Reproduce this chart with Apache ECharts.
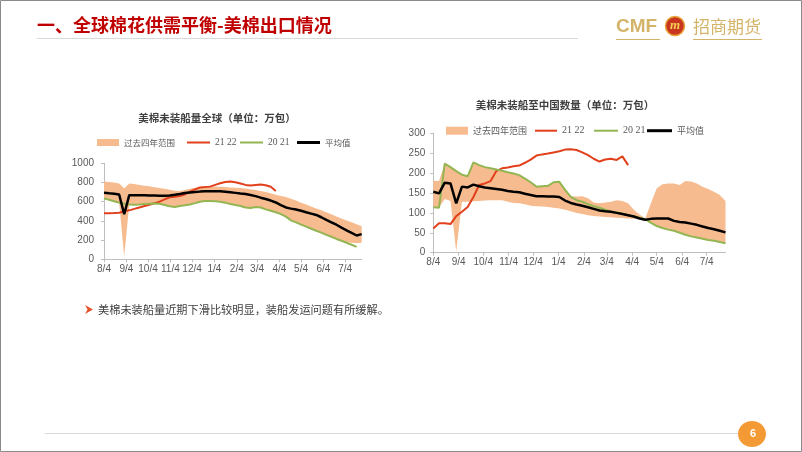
<!DOCTYPE html>
<html><head><meta charset="utf-8">
<script src="https://cdn.jsdelivr.net/npm/echarts@6/dist/echarts.min.js"></script>
<style>html,body{margin:0;padding:0;background:#fff}#c{width:802px;height:452px}</style>
</head><body><div id="c"></div>
<script>
// ---- categories (weekly dates) ----
const weekDates = ['2021-08-04','2021-08-11','2021-08-18','2021-08-25','2021-09-01','2021-09-08','2021-09-15','2021-09-22','2021-09-29',
'2021-10-06','2021-10-13','2021-10-20','2021-10-27','2021-11-03','2021-11-10','2021-11-17','2021-11-24','2021-12-01','2021-12-08',
'2021-12-15','2021-12-22','2021-12-29','2022-01-05','2022-01-12','2022-01-19','2022-01-26','2022-02-02','2022-02-09','2022-02-16',
'2022-02-23','2022-03-02','2022-03-09','2022-03-16','2022-03-23','2022-03-30','2022-04-06','2022-04-13','2022-04-20','2022-04-27',
'2022-05-04','2022-05-11','2022-05-18','2022-05-25','2022-06-01','2022-06-08','2022-06-15','2022-06-22','2022-06-29','2022-07-06',
'2022-07-13','2022-07-20','2022-07-27'];
// ---- tick labels ----
const monthTicks = ['2021-08-04','2021-09-04','2021-10-04','2021-11-04','2021-12-04','2022-01-04','2022-02-04','2022-03-04','2022-04-04','2022-05-04','2022-06-04','2022-07-04'];
const monthLabels = ['8/4','9/4','10/4','11/4','12/4','1/4','2/4','3/4','4/4','5/4','6/4','7/4'];
const leftYTicks = [0, 200, 400, 600, 800, 1000];
const rightYTicks = [0, 50, 100, 150, 200, 250, 300];

// ---- left chart: 美棉未装船量全球 ----
const leftRangeLow = [635,620,605,590,28,572,568,570,575,578, 580,578,565,552,545,555,562,570,585,600, 608,608,605,600,590,575,565,555,540,535, 545,540,520,505,490,470,445,405,385,362, 340,318,298,278,255,235,212,197,180,172, 168,172];
const leftRangeHigh = [810,805,800,790,740,790,785,775,765,760, 750,742,735,725,715,712,722,735,745,750, 755,757,758,756,752,748,745,742,738,730, 722,712,700,688,672,660,650,632,612,590, 570,550,530,510,490,468,445,425,405,385, 365,345];
const left2122 = [479,480,482,485,500,510,525,540,555,568, 585,600,625,645,652,660,675,705,728,748, 752,757,775,792,805,810,803,790,775,768, 775,778,772,755,712];
const left2021 = [635,620,605,590,580,572,568,570,575,578, 580,578,565,552,545,555,562,570,585,600, 608,608,605,600,590,575,565,555,540,535, 545,540,520,505,490,470,445,405,385,362, 340,318,298,278,255,235,212,193,172,152, 130];
const leftAvg = [694,688,683,675,469,668,668,667,666,665, 664,663,663,665,672,680,690,697,700,705, 708,710,710,708,704,698,692,685,680,670, 658,642,628,612,592,565,540,528,518,505, 490,476,462,438,410,385,360,330,302,275, 248,262];

// ---- right chart: 美棉未装船至中国数量 ----
const rightRangeLow = [114,114,135,130,3,128,128,129,130,131, 132,132,132,128,125,124,122,118,117,116, 115,113,111,108,104,100,97,94,92,91, 90,89,88,87,86,85,84,83,75,67, 62,58,55,50,45,41,38,35,32,30, 27,24];
const rightRangeHigh = [181,180,224,215,205,196,192,227,220,215, 212,209,206,202,199,195,186,177,166,167, 168,177,178,158,142,141,142,137,126,124, 126,128,132,130,124,108,96,86,125,162, 172,174,174,170,180,179,174,166,160,153, 145,130];
const right2122 = [61,74,74,72,92,103,115,140,170,174, 180,205,212,214,217,219,226,234,244,247, 249,252,255,259,260,258,252,245,236,229, 234,236,233,242,220];
const right2021 = [114,113,224,215,205,196,192,227,220,215, 212,209,206,202,199,195,186,177,166,167, 168,177,178,158,140,132,128,122,117,113, 108,103,101,98,95,91,88,84,75,67, 62,58,55,50,45,41,38,35,32,30, 27,24];
const rightAvg = [153,149,176,174,124,166,164,171,167,164, 162,160,158,155,153,152,148,145,142,142, 141,141,140,131,125,121,118,114,110,106, 104,103,100,97,94,91,86,83,85,86, 86,86,80,77,76,73,70,66,62,59, 55,51];

const NAME_RANGE = '过去四年范围', NAME_A = '21 22', NAME_B = '20 21', NAME_AVG = '平均值';
const C_RANGE = '#F6BC90', C_RED = '#E2401C', C_GREEN = '#93B552', C_AVG = '#000000';
const CJK = '"Noto Sans CJK SC", sans-serif';
const SERIF = '"Liberation Serif", serif';

// day offsets from the first date (the x axis is a value axis measured in days)
function dayNum(s){ const p = s.split('-').map(Number); return Math.round(Date.UTC(p[0], p[1]-1, p[2]) / 86400000); }
const day0 = dayNum(weekDates[0]);
const weekX = weekDates.map(s => dayNum(s) - day0);
const tickX = monthTicks.map(s => dayNum(s) - day0);
function pairs(vals){ return vals.map((v,i)=>[weekX[i], v]); }
function labelFor(v){
  const i = tickX.indexOf(Math.round(v));
  return i >= 0 ? monthLabels[i] : '';
}

function xAxisCfg(g){
  return { type:'value', gridIndex:g, min:weekX[0], max:weekX[weekX.length-1],
    axisLine:{show:true, onZero:false, lineStyle:{color:'#BFBFBF', width:1}},
    axisTick:{show:true, length:3, customValues:tickX, lineStyle:{color:'#BFBFBF'}},
    axisLabel:{customValues:tickX, formatter:labelFor, color:'#595959', fontSize:10, fontFamily:'"Liberation Sans", Arial', margin:5, hideOverlap:false, showMinLabel:true, showMaxLabel:true},
    splitLine:{show:false} };
}
function yAxisCfg(g, ticks, margin){
  return { type:'value', gridIndex:g, min:ticks[0], max:ticks[ticks.length-1], interval:ticks[1]-ticks[0],
    axisLine:{show:true, lineStyle:{color:'#BFBFBF', width:1}},
    axisTick:{show:true, length:3, lineStyle:{color:'#BFBFBF'}},
    axisLabel:{color:'#595959', fontSize:10, fontFamily:'"Liberation Sans", Arial', margin:margin, formatter:v => String(v)},
    splitLine:{show:false} };
}
function bandSeries(g, low, high){
  return { type:'custom', name:NAME_RANGE, xAxisIndex:g, yAxisIndex:g, silent:true, z:1,
    itemStyle:{color:C_RANGE},
    data: weekX.map((x,i)=>[x, low[i], high[i]]),
    encode:{x:0, y:[1,2]},
    renderItem:function(params, api){
      if (params.dataIndex !== 0) return null;
      const pts = [];
      for (let i=0;i<weekX.length;i++) pts.push(api.coord([weekX[i], high[i]]));
      for (let i=weekX.length-1;i>=0;i--) pts.push(api.coord([weekX[i], low[i]]));
      return {type:'polygon', shape:{points:pts}, style:{fill:C_RANGE}};
    } };
}
function chartSeries(g, low, high, a, b, avg){
  return [
    bandSeries(g, low, high),
    { type:'line', name:NAME_A, xAxisIndex:g, yAxisIndex:g, data:pairs(a), symbol:'none', z:3, lineStyle:{color:C_RED, width:2}, itemStyle:{color:C_RED} },
    { type:'line', name:NAME_B, xAxisIndex:g, yAxisIndex:g, data:pairs(b), symbol:'none', z:3, lineStyle:{color:C_GREEN, width:2}, itemStyle:{color:C_GREEN} },
    { type:'line', name:NAME_AVG, xAxisIndex:g, yAxisIndex:g, data:pairs(avg), symbol:'none', z:3, lineStyle:{color:C_AVG, width:2.5}, itemStyle:{color:C_AVG} }
  ];
}
function legendItem(name, left, cy, iw, ih, color, font, fs){
  return { left:left, top:cy-6, itemWidth:iw, itemHeight:ih, itemGap:0, padding:0, selectedMode:false,
    data:[{name:name, icon:'rect', itemStyle:{color:color, borderWidth:0}}],
    textStyle:{color:'#595959', fontSize:fs, fontFamily:font, lineHeight:12} };
}

const option = {
  animation:false,
  backgroundColor:'#ffffff',
  grid:[
    {left:104, top:163.3, width:257.7, height:96, containLabel:false},
    {left:433.3, top:133.3, width:292.2, height:119.4, containLabel:false}
  ],
  xAxis:[xAxisCfg(0), xAxisCfg(1)],
  yAxis:[yAxisCfg(0, leftYTicks, 10), yAxisCfg(1, rightYTicks, 8)],
  legend:[
    legendItem(NAME_RANGE, 97, 142.5, 22, 7, C_RANGE, CJK, 8.5),
    legendItem(NAME_A, 187, 142.5, 23, 2, C_RED, SERIF, 9.5),
    legendItem(NAME_B, 240, 142.5, 23, 2, C_GREEN, SERIF, 9.5),
    legendItem(NAME_AVG, 297, 142.5, 23, 3, C_AVG, CJK, 8.5),
    legendItem(NAME_RANGE, 446, 130.7, 22, 8, C_RANGE, CJK, 9),
    legendItem(NAME_A, 535, 130.7, 22, 2, C_RED, SERIF, 10),
    legendItem(NAME_B, 594, 130.7, 24, 2, C_GREEN, SERIF, 10),
    legendItem(NAME_AVG, 647, 130.7, 25, 3, C_AVG, CJK, 9)
  ],
  series: chartSeries(0, leftRangeLow, leftRangeHigh, left2122, left2021, leftAvg)
    .concat(chartSeries(1, rightRangeLow, rightRangeHigh, right2122, right2021, rightAvg)),
  graphic:[
    {type:'rect', shape:{x:0.5, y:0.5, width:801, height:451}, style:{fill:'none', stroke:'#8a8a8a', lineWidth:1}, silent:true},
    {type:'text', x:37, y:25.5, style:{text:'一、全球棉花供需平衡-美棉出口情况', fill:'#C00000', font:'bold 18px "Noto Sans CJK SC"', verticalAlign:'middle'}},
    {type:'line', shape:{x1:37, y1:38.5, x2:578, y2:38.5}, style:{stroke:'#D9D9D9', lineWidth:1}},
    {type:'text', x:616, y:26.5, style:{text:'CMF', fill:'#D4B469', font:'bold 19px "Liberation Sans"', verticalAlign:'middle'}},
    {type:'line', shape:{x1:616, y1:39.5, x2:660, y2:39.5}, style:{stroke:'#D4B469', lineWidth:1}},
    {type:'circle', shape:{cx:675, cy:26, r:9.5}, style:{fill:'#C9361F', stroke:'#E7A53A', lineWidth:1.5}},
    {type:'text', x:675, y:26, style:{text:'m', fill:'#F6CF55', font:'bold italic 13px "Liberation Serif"', align:'center', verticalAlign:'middle'}},
    {type:'text', x:693, y:26.5, style:{text:'招商期货', fill:'#D4B469', font:'17px "Noto Sans CJK SC"', verticalAlign:'middle'}},
    {type:'line', shape:{x1:693, y1:39.5, x2:762, y2:39.5}, style:{stroke:'#D4B469', lineWidth:1}},
    {type:'text', x:217, y:118, style:{text:'美棉未装船量全球（单位：万包）', fill:'#404040', font:'bold 10.5px "Noto Sans CJK SC"', align:'center', verticalAlign:'middle'}},
    {type:'text', x:565, y:105, style:{text:'美棉未装船至中国数量（单位：万包）', fill:'#404040', font:'bold 10.5px "Noto Sans CJK SC"', align:'center', verticalAlign:'middle'}},
    {type:'polygon', shape:{points:[[85,305],[93,309.5],[85,314],[87.5,309.5]]}, style:{fill:'#E4542A'}},
    {type:'text', x:98, y:309.5, style:{text:'美棉未装船量近期下滑比较明显，装船发运问题有所缓解。', fill:'#404040', font:'11.2px "Noto Sans CJK SC"', verticalAlign:'middle'}},
    {type:'line', shape:{x1:45, y1:433.5, x2:740, y2:433.5}, style:{stroke:'#D9D9D9', lineWidth:1}},
    {type:'ellipse', shape:{cx:752, cy:434, rx:14, ry:13}, style:{fill:'#F39A34'}},
    {type:'text', x:753, y:434, style:{text:'6', fill:'#ffffff', font:'bold 11px "Liberation Sans"', align:'center', verticalAlign:'middle'}}
  ]
};
const chart = echarts.init(document.getElementById('c'), null, {renderer:'canvas'});
chart.setOption(option);
</script>
</body></html>
